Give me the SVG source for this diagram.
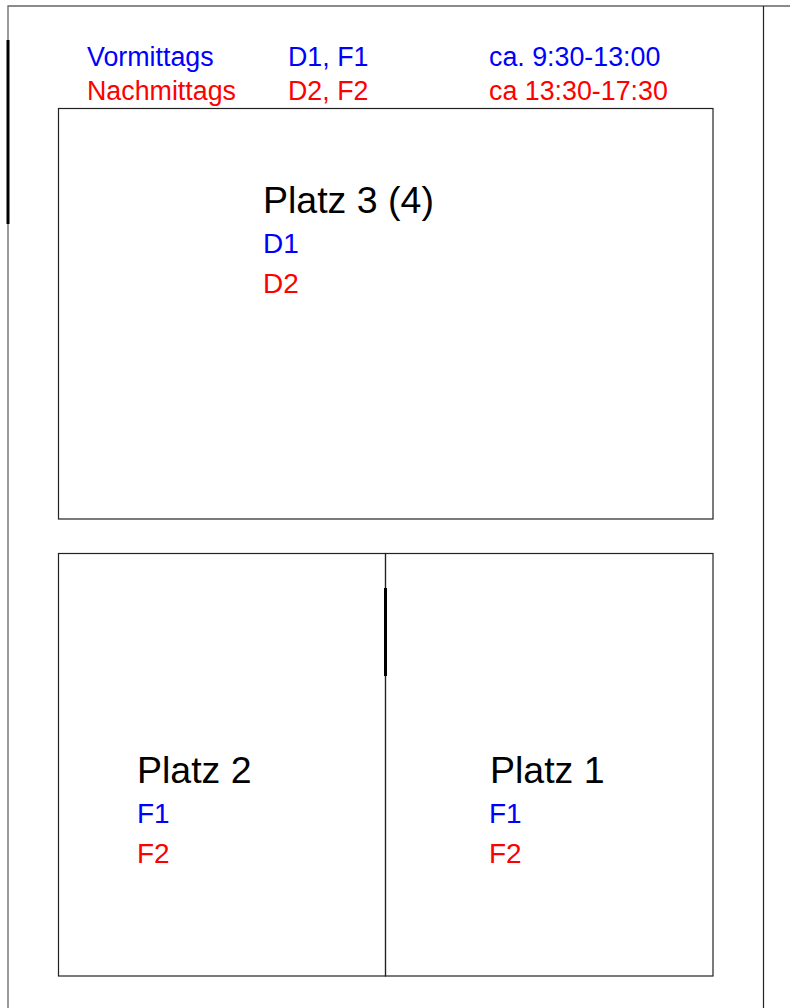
<svg xmlns="http://www.w3.org/2000/svg" width="790" height="1008" viewBox="0 0 790 1008">
<style>
text{font-family:"Liberation Sans",Arial,sans-serif}
.b{fill:#0000ff}.r{fill:#ff0000}.k{fill:#000}
.s{font-size:26.8px}.m{font-size:28px}.l{font-size:37.5px}
.frame{stroke:#666;stroke-width:1.3;fill:none}
.box{stroke:#222;stroke-width:1.2;fill:none}
.thick{stroke:#000;stroke-width:3;fill:none}
</style>
<rect width="790" height="1008" fill="#fff"/>
<g id="frame">
<path class="frame" d="M8,1008 V6 H790"/>
<line class="box" x1="763.5" y1="6" x2="763.5" y2="1008"/>
<line class="thick" x1="8" y1="40" x2="8" y2="224"/>
</g>
<g id="legend">
<text class="s b" x="87" y="66">Vormittags</text>
<text class="s b" x="288" y="66">D1, F1</text>
<text class="s b" x="489" y="66">ca. 9:30-13:00</text>
<text class="s r" x="87" y="100">Nachmittags</text>
<text class="s r" x="288" y="100">D2, F2</text>
<text class="s r" x="489" y="100">ca 13:30-17:30</text>
</g>
<g id="platz3">
<rect class="box" x="58.5" y="108.5" width="654.5" height="410.5"/>
<text class="l k" x="263" y="213">Platz 3 (4)</text>
<text class="m b" x="263" y="253">D1</text>
<text class="m r" x="263" y="293">D2</text>
</g>
<g id="platz2">
<rect class="box" x="58.5" y="553.5" width="327" height="422.5"/>
<text class="l k" x="137" y="783">Platz 2</text>
<text class="m b" x="137" y="823">F1</text>
<text class="m r" x="137" y="863">F2</text>
</g>
<g id="platz1">
<rect class="box" x="385.5" y="553.5" width="327.5" height="422.5"/>
<text class="l k" x="490" y="783">Platz 1</text>
<text class="m b" x="489" y="823">F1</text>
<text class="m r" x="489" y="863">F2</text>
</g>
<g id="connectors">
<line class="thick" x1="385.5" y1="588" x2="385.5" y2="676"/>
</g>
</svg>
